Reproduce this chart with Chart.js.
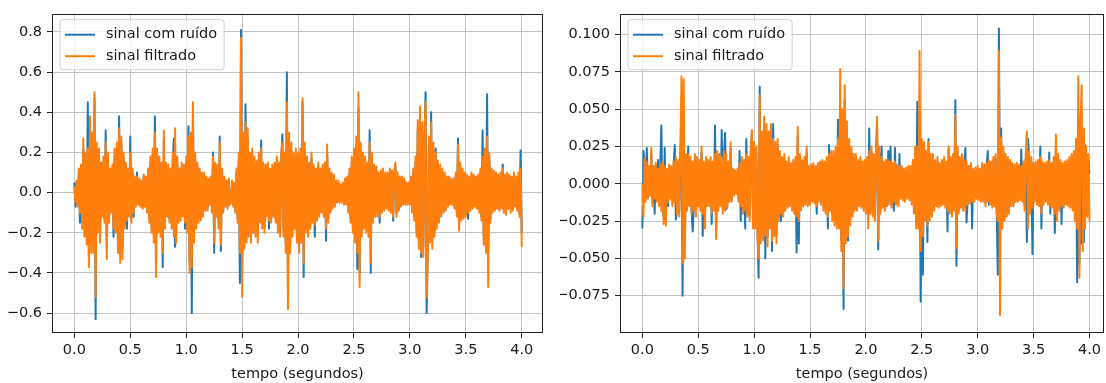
<!DOCTYPE html>
<html>
<head>
<meta charset="utf-8">
<script src="https://cdn.jsdelivr.net/npm/chart.js@4.4.1/dist/chart.umd.min.js"></script>
<style>
  body { margin: 0; background: #fff; width: 1106px; height: 383px; overflow: hidden; position: relative; }
  canvas { position: absolute; top: 0; }
  #left { left: 0; }
  #right { left: 560px; }
</style>
</head>
<body>
<canvas id="left" width="552" height="383"></canvas>
<canvas id="right" width="546" height="383"></canvas>
<script>
// sampling step of both signals (seconds)
const SAMPLE_STEP = 0.01;

const seriesNames = ["sinal com ruído", "sinal filtrado"];
const xTickValues = [0, 0.5, 1, 1.5, 2, 2.5, 3, 3.5, 4];
const xTickLabels = ["0.0", "0.5", "1.0", "1.5", "2.0", "2.5", "3.0", "3.5", "4.0"];

const leftYTickValues = [-0.6, -0.4, -0.2, 0, 0.2, 0.4, 0.6, 0.8];
const leftYTickLabels = ["\u22120.6", "\u22120.4", "\u22120.2", "0.0", "0.2", "0.4", "0.6", "0.8"];
const rightYTickValues = [-0.075, -0.05, -0.025, 0, 0.025, 0.05, 0.075, 0.1];
const rightYTickLabels = ["\u22120.075", "\u22120.050", "\u22120.025", "0.000", "0.025", "0.050", "0.075", "0.100"];

// left panel: noisy signal (one row = 0.2 s)
const leftNoisy = [
  0.05,-0.07,0.05,-0.06,0.10,-0.15,0.12,-0.15,0.22,-0.18,0.17,-0.22,0.45,-0.32,0.33,-0.26,0.26,-0.26,0.47,-0.63,
  0.21,-0.17,0.19,-0.21,0.13,-0.10,0.15,-0.13,0.31,-0.28,0.17,-0.13,0.10,-0.08,0.12,-0.22,0.19,-0.17,0.21,-0.25,
  0.38,-0.30,0.24,-0.28,0.17,-0.15,0.13,-0.18,0.10,-0.10,0.28,-0.13,0.10,-0.12,0.07,-0.06,0.10,-0.05,0.06,-0.06,
  0.05,-0.07,0.08,-0.06,0.07,-0.09,0.10,-0.13,0.15,-0.17,0.19,-0.21,0.38,-0.36,0.19,-0.17,0.15,-0.19,0.13,-0.37,
  0.26,-0.15,0.13,-0.10,0.12,-0.13,0.10,-0.15,0.17,0.27,-0.27,-0.21,0.15,-0.13,0.10,-0.12,0.13,-0.10,0.12,-0.18,
  0.15,-0.17,0.33,-0.34,0.26,-0.60,0.38,-0.21,0.17,-0.15,0.13,-0.13,0.10,-0.12,0.08,-0.10,0.08,-0.08,0.07,-0.08,
  0.06,-0.05,0.07,-0.09,0.20,-0.30,0.13,-0.10,0.12,-0.15,0.28,-0.29,0.10,-0.09,0.07,-0.06,0.05,-0.07,0.06,-0.05,
  -0.04,0.05,-0.06,0.04,-0.09,0.10,-0.13,0.17,-0.45,0.81,-0.40,0.26,-0.24,0.44,-0.21,0.27,-0.19,0.17,-0.21,0.19,
  -0.17,0.15,-0.19,0.14,-0.21,0.17,-0.13,0.26,-0.15,0.13,-0.17,0.12,-0.10,0.13,-0.18,0.10,-0.13,0.12,-0.10,0.13,
  -0.13,0.15,-0.17,0.13,-0.19,0.17,0.29,-0.19,0.17,-0.26,0.60,-0.50,0.26,-0.26,0.21,-0.19,0.17,-0.15,0.19,-0.21,
  0.17,-0.26,0.19,-0.21,0.45,-0.42,0.21,-0.17,0.15,-0.19,0.13,-0.15,0.17,-0.13,0.12,-0.22,0.10,-0.12,0.13,-0.10,
  0.10,-0.09,0.12,-0.10,0.13,-0.24,0.20,-0.13,0.10,-0.09,0.09,-0.07,0.08,-0.06,0.05,-0.04,0.05,-0.04,0.04,-0.04,
  0.04,-0.05,0.06,-0.05,0.07,-0.09,0.10,-0.13,0.15,-0.17,0.19,-0.21,0.24,-0.38,0.42,-0.40,0.21,-0.19,0.17,-0.15,
  0.15,-0.17,0.13,-0.19,0.31,-0.40,0.17,-0.13,0.12,-0.10,0.11,-0.10,0.08,-0.15,0.09,-0.08,0.10,-0.08,0.08,-0.07,
  0.08,-0.08,0.10,-0.09,0.09,-0.14,0.09,0.13,-0.10,0.08,-0.08,0.07,-0.06,0.07,-0.05,0.06,-0.05,0.04,-0.05,0.04,
  -0.05,0.07,-0.08,0.10,-0.12,0.15,-0.19,0.31,-0.24,0.37,-0.32,0.30,-0.27,0.26,0.50,-0.60,-0.26,0.24,-0.21,0.40,
  -0.24,0.21,-0.19,0.22,-0.15,0.14,-0.13,0.12,-0.10,0.10,-0.09,0.09,-0.08,0.07,-0.06,0.07,-0.05,0.06,-0.05,0.06,
  -0.07,0.08,-0.10,0.27,-0.16,0.13,-0.12,0.10,-0.11,0.08,-0.10,0.08,-0.13,0.07,-0.08,0.08,-0.07,0.08,-0.06,0.07,
  -0.07,0.08,-0.08,0.10,-0.12,0.31,-0.22,0.19,-0.25,0.49,-0.30,0.17,-0.13,0.10,-0.08,0.09,-0.08,0.08,-0.07,0.08,
  -0.08,0.08,-0.07,0.14,-0.08,0.08,-0.09,0.08,-0.07,0.08,-0.08,0.07,-0.08,0.08,-0.06,0.07,-0.08,0.08,-0.10,0.21,
  -0.20
];

// left panel: filtered signal
const leftFiltered = [
  0.03,-0.05,0.06,-0.07,0.12,-0.10,0.14,-0.18,0.27,-0.22,0.20,-0.26,0.22,-0.37,0.38,-0.30,0.30,-0.30,0.50,-0.52,
  0.25,-0.20,0.22,-0.25,0.15,-0.12,0.18,-0.15,0.25,-0.33,0.20,-0.15,0.12,-0.10,0.14,-0.18,0.22,-0.20,0.25,-0.30,
  0.32,-0.35,0.28,-0.33,0.20,-0.18,0.15,-0.14,0.12,-0.12,0.20,-0.15,0.12,-0.10,0.08,-0.07,0.08,-0.06,0.07,-0.07,
  0.06,-0.08,0.09,-0.07,0.08,-0.10,0.12,-0.15,0.18,-0.20,0.22,-0.25,0.30,-0.42,0.22,-0.20,0.18,-0.22,0.15,-0.30,
  0.31,-0.18,0.15,-0.12,0.14,-0.15,0.12,-0.18,0.20,-0.22,0.32,-0.25,0.18,-0.15,0.12,-0.14,0.15,-0.12,0.14,-0.15,
  0.18,-0.20,0.28,-0.40,0.30,-0.37,0.45,-0.25,0.20,-0.18,0.15,-0.15,0.12,-0.14,0.10,-0.12,0.10,-0.09,0.08,-0.09,
  0.07,-0.06,0.08,-0.10,0.18,-0.25,0.15,-0.12,0.14,-0.18,0.25,-0.26,0.12,-0.10,0.08,-0.07,0.06,-0.08,0.07,-0.06,
  -0.05,0.06,-0.07,0.05,-0.10,0.12,-0.15,0.20,-0.30,0.77,-0.52,0.30,-0.28,0.35,-0.25,0.32,-0.22,0.20,-0.25,0.22,
  -0.20,0.18,-0.22,0.16,-0.25,0.20,-0.15,0.22,-0.18,0.15,-0.20,0.14,-0.12,0.15,-0.14,0.12,-0.15,0.14,-0.12,0.15,
  -0.15,0.18,-0.20,0.15,-0.22,0.20,0.25,-0.22,0.20,-0.30,0.45,-0.58,0.30,-0.30,0.25,-0.22,0.20,-0.18,0.22,-0.25,
  0.20,-0.30,0.22,-0.25,0.47,-0.35,0.25,-0.20,0.18,-0.22,0.15,-0.18,0.20,-0.15,0.14,-0.16,0.12,-0.14,0.15,-0.12,
  0.12,-0.10,0.14,-0.12,0.15,-0.18,0.24,-0.15,0.12,-0.10,0.10,-0.08,0.09,-0.07,0.06,-0.05,0.06,-0.05,0.04,-0.05,
  0.05,-0.06,0.07,-0.06,0.08,-0.10,0.12,-0.15,0.18,-0.20,0.22,-0.25,0.28,-0.30,0.50,-0.47,0.25,-0.22,0.20,-0.18,
  0.18,-0.20,0.15,-0.22,0.25,-0.35,0.20,-0.15,0.14,-0.12,0.13,-0.12,0.10,-0.12,0.11,-0.10,0.12,-0.09,0.10,-0.08,
  0.10,-0.09,0.12,-0.10,0.11,-0.12,0.10,0.15,-0.12,0.10,-0.09,0.08,-0.07,0.08,-0.06,0.07,-0.06,0.05,-0.06,0.05,
  -0.06,0.08,-0.10,0.12,-0.14,0.18,-0.22,0.36,-0.28,0.43,-0.30,0.35,-0.32,0.30,0.45,-0.52,-0.30,0.28,-0.25,0.35,
  -0.28,0.25,-0.22,0.20,-0.18,0.16,-0.15,0.14,-0.12,0.12,-0.10,0.10,-0.09,0.08,-0.07,0.08,-0.06,0.07,-0.06,0.07,
  -0.08,0.10,-0.12,0.24,-0.19,0.15,-0.14,0.12,-0.13,0.10,-0.12,0.09,-0.10,0.08,-0.09,0.10,-0.08,0.09,-0.07,0.08,
  -0.08,0.09,-0.10,0.12,-0.14,0.18,-0.26,0.22,-0.30,0.28,-0.47,0.20,-0.15,0.12,-0.10,0.11,-0.09,0.10,-0.08,0.09,
  -0.09,0.10,-0.08,0.12,-0.10,0.09,-0.11,0.10,-0.08,0.09,-0.10,0.08,-0.09,0.10,-0.07,0.08,-0.09,0.10,-0.12,0.12,
  -0.27
];

// right panel: noisy signal
const rightNoisy = [
  -0.030,0.022,0.014,-0.010,0.024,-0.008,0.010,-0.007,0.020,-0.013,0.010,-0.020,0.012,-0.010,0.016,-0.013,0.011,0.039,-0.015,-0.022,
  0.024,-0.024,0.008,-0.015,0.011,-0.008,0.010,-0.013,0.013,0.026,-0.024,-0.017,0.014,-0.019,0.021,0.033,-0.075,0.030,-0.042,0.017,
  -0.015,0.025,-0.013,0.015,-0.017,-0.032,-0.015,0.017,-0.019,0.015,-0.013,0.014,-0.015,0.021,-0.035,0.013,-0.025,0.015,-0.013,0.014,
  -0.013,0.015,-0.027,0.013,-0.015,0.039,-0.031,0.019,-0.015,0.017,-0.013,0.036,-0.017,0.019,0.034,-0.017,-0.014,0.013,-0.010,0.024,
  -0.010,0.008,-0.007,0.008,-0.006,0.008,-0.010,0.022,-0.025,0.015,-0.017,0.014,-0.030,0.030,-0.019,0.015,-0.021,0.019,0.035,-0.026,
  0.024,-0.026,0.021,-0.030,-0.063,0.065,-0.034,0.030,-0.032,0.038,-0.050,0.034,-0.036,0.030,-0.026,0.034,-0.045,0.040,-0.030,0.024,
  -0.034,0.026,-0.021,0.019,-0.025,0.015,-0.019,0.017,-0.015,0.013,-0.014,0.015,-0.013,0.012,-0.015,0.014,-0.017,0.015,-0.046,0.032,
  -0.040,0.017,-0.015,0.014,-0.013,0.015,-0.012,0.021,-0.013,0.010,-0.012,0.011,-0.010,0.012,-0.011,0.010,-0.020,0.012,-0.010,0.013,
  -0.012,0.014,-0.015,0.013,-0.017,0.015,-0.030,0.026,-0.015,0.019,-0.021,0.019,-0.024,0.021,-0.026,0.043,-0.026,0.040,-0.038,0.042,
  -0.084,0.056,-0.034,0.036,-0.038,0.026,-0.024,0.021,-0.019,0.017,-0.015,0.017,-0.015,0.014,-0.013,0.015,-0.014,0.013,-0.015,0.014,
  -0.017,0.015,-0.025,0.037,-0.017,0.021,-0.019,0.017,-0.021,0.019,0.038,-0.044,0.021,-0.017,0.025,-0.014,0.013,-0.015,0.014,-0.013,
  0.022,-0.012,0.025,-0.014,0.012,-0.018,0.024,-0.012,0.011,-0.013,0.020,-0.009,0.010,-0.009,0.009,-0.010,0.009,-0.009,0.010,-0.009,
  0.010,-0.012,0.014,-0.017,0.021,-0.026,0.055,-0.026,0.040,-0.079,0.026,-0.061,0.024,-0.021,0.019,-0.039,0.030,-0.021,0.017,-0.019,
  0.017,-0.015,0.014,-0.013,0.015,-0.014,0.012,-0.013,0.014,-0.012,0.015,-0.014,0.013,-0.032,0.023,-0.017,0.015,-0.019,0.017,-0.015,
  0.056,-0.055,0.021,-0.017,0.015,-0.014,0.017,-0.015,0.014,0.024,-0.026,-0.012,0.010,-0.011,0.012,-0.030,0.009,-0.010,0.009,-0.009,
  0.010,-0.009,0.009,-0.010,0.012,-0.010,0.011,-0.013,0.012,0.022,-0.014,-0.012,0.013,-0.014,0.015,-0.013,0.017,-0.017,-0.061,0.104,
  -0.040,0.037,-0.026,0.021,-0.021,0.017,-0.019,0.015,-0.017,0.014,-0.013,0.012,-0.013,0.011,-0.010,0.012,-0.010,0.011,-0.009,0.023,
  -0.010,0.013,-0.015,0.017,-0.039,0.030,0.019,-0.017,0.015,-0.047,0.012,-0.010,0.013,-0.012,0.014,-0.013,0.025,-0.030,0.013,-0.012,
  0.012,-0.010,0.013,-0.012,0.021,-0.020,0.012,-0.014,0.015,-0.033,0.028,-0.021,0.017,-0.015,0.014,-0.027,0.012,-0.014,0.013,-0.012,
  0.014,-0.013,0.015,-0.014,0.017,-0.015,0.019,-0.021,0.030,-0.066,0.040,-0.054,0.034,-0.040,0.035,-0.039,0.026,-0.021,0.019,0.015,
  0.007
];

// right panel: filtered signal
const rightFiltered = [
  0.000,-0.022,0.017,-0.012,0.015,-0.010,0.012,-0.008,0.024,-0.015,0.012,-0.010,0.014,-0.012,0.010,-0.015,0.013,-0.018,0.015,-0.027,
  0.012,-0.028,0.010,-0.012,0.013,-0.010,0.012,-0.015,0.015,-0.012,0.018,-0.020,0.016,-0.022,0.025,0.072,-0.053,0.070,-0.050,0.020,
  -0.018,0.020,-0.015,0.018,-0.020,0.015,-0.018,0.020,-0.022,0.018,-0.015,0.016,-0.018,0.025,-0.020,0.015,-0.030,0.018,-0.015,0.016,
  -0.015,0.018,-0.020,0.015,-0.018,0.020,-0.037,0.022,-0.018,0.020,-0.015,0.018,-0.020,0.022,-0.018,0.020,-0.016,0.015,-0.012,0.028,
  -0.012,0.010,-0.008,0.009,-0.007,0.010,-0.012,0.014,-0.015,0.018,-0.020,0.016,-0.018,0.020,-0.022,0.018,-0.025,0.022,0.036,-0.030,
  0.028,-0.030,0.025,-0.035,-0.050,0.059,-0.040,0.035,-0.038,0.045,-0.035,0.040,-0.042,0.035,-0.030,0.040,-0.038,0.030,-0.035,0.028,
  -0.040,0.030,-0.025,0.022,-0.020,0.018,-0.022,0.020,-0.018,0.015,-0.016,0.018,-0.015,0.014,-0.018,0.016,-0.020,0.018,-0.022,0.038,
  -0.025,0.020,-0.018,0.016,-0.015,0.018,-0.014,0.025,-0.015,0.012,-0.014,0.013,-0.012,0.014,-0.013,0.012,-0.015,0.014,-0.012,0.015,
  -0.014,0.016,-0.018,0.015,-0.020,0.018,-0.022,0.020,-0.018,0.022,-0.025,0.022,-0.028,0.025,-0.030,0.030,-0.030,0.077,-0.045,0.050,
  -0.070,0.066,-0.040,0.042,-0.035,0.030,-0.028,0.025,-0.022,0.020,-0.018,0.020,-0.018,0.016,-0.015,0.018,-0.016,0.015,-0.018,0.016,
  -0.020,0.018,-0.030,0.022,-0.020,0.025,-0.022,0.020,-0.025,0.022,0.045,-0.038,0.025,-0.020,0.018,-0.016,0.015,-0.018,0.016,-0.015,
  0.016,-0.014,0.015,-0.016,0.014,-0.012,0.015,-0.014,0.013,-0.015,0.012,-0.010,0.012,-0.011,0.010,-0.012,0.011,-0.010,0.012,-0.011,
  0.012,-0.014,0.016,-0.020,0.025,-0.030,0.025,-0.030,0.089,-0.045,0.030,-0.035,0.028,-0.025,0.022,-0.028,0.028,-0.025,0.020,-0.022,
  0.020,-0.018,0.016,-0.015,0.018,-0.016,0.014,-0.015,0.016,-0.014,0.018,-0.016,0.015,-0.018,0.025,-0.020,0.018,-0.022,0.020,-0.018,
  0.046,-0.043,0.025,-0.020,0.018,-0.016,0.020,-0.018,0.016,-0.018,0.015,-0.014,0.012,-0.013,0.014,-0.012,0.010,-0.012,0.011,-0.010,
  0.012,-0.011,0.010,-0.012,0.014,-0.012,0.013,-0.015,0.014,-0.012,0.016,-0.014,0.015,-0.016,0.018,-0.015,0.020,-0.020,-0.025,0.089,
  -0.088,0.031,-0.030,0.025,-0.025,0.020,-0.022,0.018,-0.020,0.016,-0.015,0.014,-0.015,0.013,-0.012,0.014,-0.012,0.013,-0.011,0.012,
  -0.012,0.015,-0.018,0.020,0.035,-0.030,0.022,-0.020,0.018,-0.016,0.014,-0.012,0.015,-0.014,0.016,-0.015,0.018,-0.020,0.015,-0.014,
  0.014,-0.012,0.015,-0.014,0.016,-0.015,0.014,-0.016,0.018,-0.020,0.033,-0.025,0.020,-0.018,0.016,-0.015,0.014,-0.016,0.015,-0.014,
  0.016,-0.015,0.018,-0.016,0.020,-0.018,0.022,-0.025,0.030,-0.030,0.072,-0.063,0.040,0.066,-0.045,0.037,-0.030,0.025,-0.022,0.020,
  -0.025
];

const FONT = "DejaVu Sans";
const FONT_SIZE = 14.5;
const TEXT_COLOR = "#1a1a1a";
const BLUE = "#1f77b4";
const ORANGE = "#ff7f0e";

function toPoints(vals) {
  return vals.map((v, i) => ({ x: i * SAMPLE_STEP, y: v }));
}

// axes frame (all four spines)
const framePlugin = {
  id: "frame",
  afterDatasetsDraw(chart) {
    const { ctx, chartArea: a } = chart;
    ctx.save();
    ctx.strokeStyle = "#222";
    ctx.lineWidth = 1;
    ctx.strokeRect(Math.round(a.left) + 0.5, Math.round(a.top) + 0.5,
      Math.round(a.right - a.left) - 1, Math.round(a.bottom - a.top) - 1);
    ctx.restore();
  }
};

// matplotlib-style legend inside the plot, upper left
const innerLegendPlugin = {
  id: "innerLegend",
  afterDraw(chart) {
    const { ctx, chartArea: a } = chart;
    const colors = [BLUE, ORANGE];
    ctx.save();
    ctx.font = FONT_SIZE + "px '" + FONT + "'";
    const textW = Math.max(...seriesNames.map(s => ctx.measureText(s).width));
    const x = a.left + 8, y = a.top + 6;
    const w = 46 + textW + 7, h = 50, r = 3;
    ctx.beginPath();
    ctx.moveTo(x + r, y);
    ctx.arcTo(x + w, y, x + w, y + h, r);
    ctx.arcTo(x + w, y + h, x, y + h, r);
    ctx.arcTo(x, y + h, x, y, r);
    ctx.arcTo(x, y, x + w, y, r);
    ctx.closePath();
    ctx.fillStyle = "rgba(255,255,255,0.8)";
    ctx.fill();
    ctx.strokeStyle = "#d0d0d0";
    ctx.lineWidth = 1;
    ctx.stroke();
    seriesNames.forEach((name, i) => {
      const cy = y + 15 + i * 21.5;
      ctx.beginPath();
      ctx.moveTo(x + 5, cy);
      ctx.lineTo(x + 35, cy);
      ctx.strokeStyle = colors[i];
      ctx.lineWidth = 2;
      ctx.stroke();
      ctx.fillStyle = TEXT_COLOR;
      ctx.textBaseline = "middle";
      ctx.fillText(name, x + 46, cy);
    });
    ctx.restore();
  }
};

function makeChart(id, noisy, filtered, yTicks, yLabels, yMin, yMax, xMax, yAxisWidth, padRight) {
  return new Chart(document.getElementById(id), {
    type: "line",
    data: {
      datasets: [
        { label: seriesNames[0], data: toPoints(noisy), borderColor: BLUE, borderWidth: 2, order: 2 },
        { label: seriesNames[1], data: toPoints(filtered), borderColor: ORANGE, borderWidth: 2, order: 1 }
      ]
    },
    options: {
      responsive: false,
      animation: false,
      devicePixelRatio: 1,
      elements: { point: { radius: 0 }, line: { tension: 0, borderJoinStyle: "round" } },
      layout: { padding: { top: 8, right: padRight, bottom: 0, left: 0 } },
      plugins: { legend: { display: false }, tooltip: { enabled: false } },
      scales: {
        x: {
          type: "linear",
          min: -0.2,
          max: xMax,
          afterBuildTicks: s => { s.ticks = xTickValues.map(v => ({ value: v })); },
          afterFit: s => { s.height = 50; },
          ticks: {
            callback: (v, i) => xTickLabels[i],
            font: { family: FONT, size: FONT_SIZE },
            color: TEXT_COLOR,
            padding: 4,
            maxRotation: 0
          },
          grid: { color: "#c4c4c4", lineWidth: 1, tickLength: 5, tickColor: "#222" },
          border: { display: false },
          title: {
            display: true,
            text: "tempo (segundos)",
            font: { family: FONT, size: FONT_SIZE },
            color: TEXT_COLOR,
            padding: { top: 0, bottom: 0 }
          }
        },
        y: {
          type: "linear",
          min: yMin,
          max: yMax,
          afterBuildTicks: s => { s.ticks = yTicks.map(v => ({ value: v })); },
          afterFit: s => { s.width = yAxisWidth; },
          ticks: {
            callback: (v, i) => yLabels[i],
            font: { family: FONT, size: FONT_SIZE },
            color: TEXT_COLOR,
            padding: 5
          },
          grid: { color: "#c4c4c4", lineWidth: 1, tickLength: 5, tickColor: "#222" },
          border: { display: false }
        }
      }
    },
    plugins: [framePlugin, innerLegendPlugin]
  });
}

makeChart("left", leftNoisy, leftFiltered, leftYTickValues, leftYTickLabels, -0.699, 0.891, 4.19, 52, 9);
makeChart("right", rightNoisy, rightFiltered, rightYTickValues, rightYTickLabels, -0.100, 0.114, 4.13, 60, 2);
</script>
</body>
</html>
